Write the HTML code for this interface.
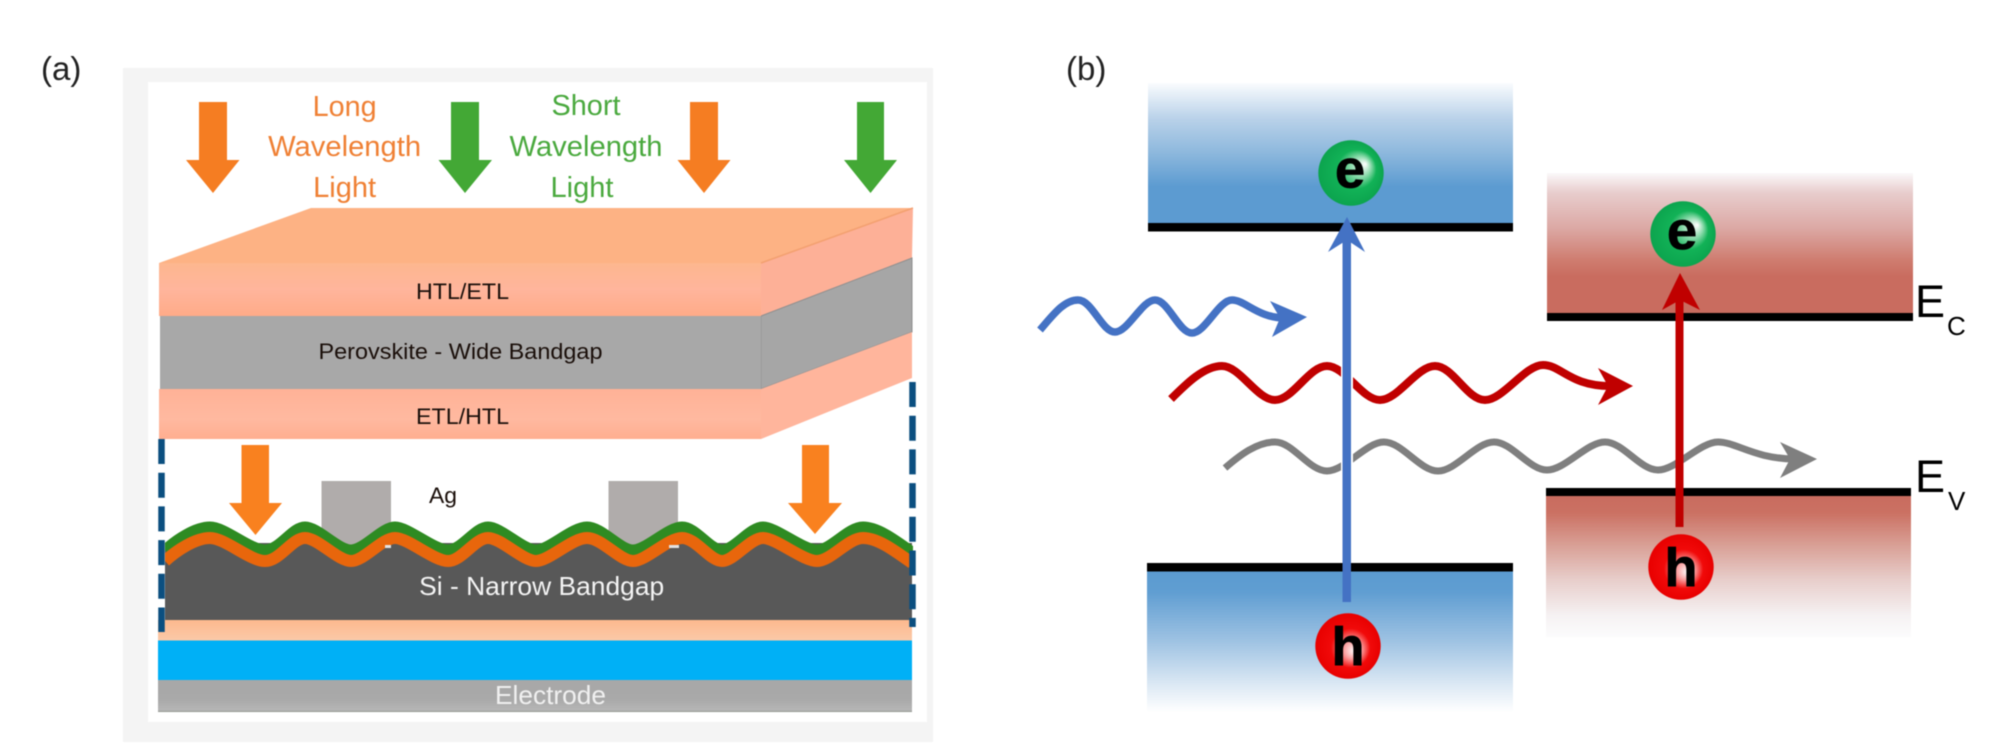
<!DOCTYPE html>
<html><head><meta charset="utf-8"><style>
html,body{margin:0;padding:0;background:#fff}
svg{display:block;filter:blur(.5px)}
text{font-family:"Liberation Sans",Arial,sans-serif}
</style></head><body>
<svg width="2000" height="752" viewBox="0 0 2000 752" xmlns="http://www.w3.org/2000/svg">
<defs>
<linearGradient id="bt" x1="0" y1="0" x2="0" y2="1"><stop offset="0" stop-color="#fafcfe"/><stop offset=".26" stop-color="#b8d1e9"/><stop offset=".5" stop-color="#8db8dd"/><stop offset=".74" stop-color="#5c9bd1"/><stop offset="1" stop-color="#5c9bd1"/></linearGradient>
<linearGradient id="bb" x1="0" y1="0" x2="0" y2="1"><stop offset="0" stop-color="#5b9bd0"/><stop offset=".15" stop-color="#609ed2"/><stop offset=".5" stop-color="#9fc3e3"/><stop offset=".8" stop-color="#dbe8f4"/><stop offset="1" stop-color="#fff"/></linearGradient>
<linearGradient id="rt" x1="0" y1="0" x2="0" y2="1"><stop offset="0" stop-color="#fbf9fa"/><stop offset=".14" stop-color="#e8cdcd"/><stop offset=".39" stop-color="#dca9a5"/><stop offset=".62" stop-color="#cf7d70"/><stop offset=".74" stop-color="#c96c5f"/><stop offset="1" stop-color="#c96c5f"/></linearGradient>
<linearGradient id="rb" x1="0" y1="0" x2="0" y2="1"><stop offset="0" stop-color="#c96c5f"/><stop offset=".12" stop-color="#cb7163"/><stop offset=".35" stop-color="#d9a096"/><stop offset=".6" stop-color="#e8cfcc"/><stop offset=".85" stop-color="#f6f2f3"/><stop offset="1" stop-color="#fcfcfd"/></linearGradient>
<linearGradient id="htl" x1="0" y1="0" x2="0" y2="1"><stop offset="0" stop-color="#fdb78f"/><stop offset=".5" stop-color="#ffb59c"/><stop offset="1" stop-color="#ffab88"/></linearGradient>
<linearGradient id="etl" x1="0" y1="0" x2="0" y2="1"><stop offset="0" stop-color="#ffb297"/><stop offset=".6" stop-color="#ffb9a0"/><stop offset="1" stop-color="#ffae90"/></linearGradient>
<linearGradient id="peach" x1="0" y1="0" x2="0" y2="1"><stop offset="0" stop-color="#fdb98e"/><stop offset="1" stop-color="#fbc9a8"/></linearGradient>
<linearGradient id="elec" x1="0" y1="0" x2="0" y2="1"><stop offset="0" stop-color="#a8a8a8"/><stop offset=".6" stop-color="#a9a9a9"/><stop offset=".95" stop-color="#b6b6b6"/><stop offset="1" stop-color="#8a9088"/></linearGradient>
<radialGradient id="ge" cx=".5" cy=".5" r=".5" fx=".72" fy=".36"><stop offset="0" stop-color="#fff"/><stop offset=".3" stop-color="#8fdcae"/><stop offset=".6" stop-color="#12b257"/><stop offset="1" stop-color="#0ca44e"/></radialGradient>
<radialGradient id="rh" cx=".5" cy=".5" r=".5" fx=".6" fy=".58"><stop offset="0" stop-color="#fff"/><stop offset=".28" stop-color="#fb9c9c"/><stop offset=".6" stop-color="#f10a0a"/><stop offset="1" stop-color="#e80000"/></radialGradient>
<clipPath id="siclip"><rect x="165" y="480" width="748" height="145"/></clipPath>
</defs>

<!-- panel a -->
<rect x="123" y="68" width="810" height="674" fill="#f4f4f4"/>
<rect x="148" y="82" width="779" height="640" fill="#fff"/>

<text x="41" y="80" font-size="33" fill="#222">(a)</text>
<text x="1066" y="80" font-size="33" fill="#222">(b)</text>

<!-- top arrows -->
<polygon points="199,102 227,102 227,160 239.5,160 213,193 186,160 199,160" fill="#f57d22"/>
<polygon points="451,102 479,102 479,160 492,160 465,193 438.5,160 451,160" fill="#43a835"/>
<polygon points="690,102 718,102 718,160 730.5,160 704,193 677.5,160 690,160" fill="#f57d22"/>
<polygon points="857,102 884,102 884,160 897,160 870.5,193 844,160 857,160" fill="#43a835"/>

<g font-size="29" fill="#ef8034" text-anchor="middle">
<text x="344.6" y="116" textLength="64" lengthAdjust="spacingAndGlyphs">Long</text>
<text x="344.6" y="156" textLength="153" lengthAdjust="spacingAndGlyphs">Wavelength</text>
<text x="344.6" y="197" textLength="63" lengthAdjust="spacingAndGlyphs">Light</text>
</g>
<g font-size="29" fill="#4aa93e" text-anchor="middle">
<text x="586" y="115" textLength="69" lengthAdjust="spacingAndGlyphs">Short</text>
<text x="586" y="156" textLength="153" lengthAdjust="spacingAndGlyphs">Wavelength</text>
<text x="582" y="197" textLength="63" lengthAdjust="spacingAndGlyphs">Light</text>
</g>

<!-- stack upper -->
<polygon points="159,263 311,208 913,208 761,263" fill="#fdb284"/>
<polygon points="761,263 913,208 912,258 761,316" fill="#fdb097"/>
<line x1="761" y1="263" x2="913" y2="208" stroke="#f3a070" stroke-width="1.500"/>
<polygon points="761,316 912,258 912,332 761,389" fill="#a6a6a6" stroke="#8f8f8f" stroke-width="1"/>
<polygon points="761,389 912,332 912,378 761,439" fill="#ffb59c"/>
<rect x="159" y="263" width="602" height="53" fill="url(#htl)"/>
<rect x="160" y="316" width="601" height="73" fill="#a8a8a8"/>
<rect x="159" y="389" width="602" height="50" fill="url(#etl)"/>

<g fill="#1a0f0a" font-size="22.5" text-anchor="middle">
<text x="462.5" y="299" textLength="93" lengthAdjust="spacingAndGlyphs">HTL/ETL</text>
<text x="460.5" y="359" textLength="284" lengthAdjust="spacingAndGlyphs">Perovskite - Wide Bandgap</text>
<text x="462.5" y="424" textLength="93" lengthAdjust="spacingAndGlyphs">ETL/HTL</text>
<text x="443" y="503" textLength="28" lengthAdjust="spacingAndGlyphs">Ag</text>
</g>

<!-- lower cell -->
<rect x="165" y="543" width="747" height="77" fill="#585858"/>
<rect x="321.500" y="481" width="69.500" height="65" fill="#b0acab"/>
<rect x="608.500" y="481" width="69.500" height="65" fill="#b0acab"/>
<g clip-path="url(#siclip)" fill="none">
<path d="M165 550C176 540 195 527 210 527S250 550 265 550S292 527 305 527S338 550 351 550S382 527 395 527S434 550 448 550S475 527 488 527S523 550 536 550S572 527 587 527S620 550 633 550S668 527 682 527S710 550 722 550S750 527 763 527S803 550 817 550S848 527 863 527S895 540 912 552" stroke="#2e8b22" stroke-width="11"/>
<path d="M165 561C176 551 195 538 210 538S250 561 265 561S292 538 305 538S338 561 351 561S382 538 395 538S434 561 448 561S475 538 488 538S523 561 536 561S572 538 587 538S620 561 633 561S668 538 682 538S710 561 722 561S750 538 763 538S803 561 817 561S848 538 863 538S895 551 912 563" stroke="#e8660c" stroke-width="12"/>
</g>
<rect x="385" y="545" width="6" height="3" fill="#e4e2e2"/>
<rect x="669" y="545" width="10" height="3" fill="#e4e2e2"/>
<polygon points="241.500,445 269,445 269,503 282,503 255.500,535 229,503 241.500,503" fill="#f9811f"/>
<polygon points="802,445 829,445 829,503 842,503 815,534 788,503 802,503" fill="#f9811f"/>

<text x="541.7" y="595" font-size="26" fill="#f4f4f4" text-anchor="middle" textLength="245" lengthAdjust="spacingAndGlyphs">Si - Narrow Bandgap</text>

<rect x="158" y="620" width="754" height="20.500" fill="url(#peach)"/>
<rect x="158" y="640.500" width="754" height="39.500" fill="#00b0f6"/>
<rect x="158" y="680" width="754" height="32" fill="url(#elec)"/>
<text x="550.500" y="704" font-size="26" fill="#f0f0f0" text-anchor="middle" textLength="111" lengthAdjust="spacingAndGlyphs">Electrode</text>

<line x1="161.500" y1="439" x2="161.500" y2="632" stroke="#0b4f80" stroke-width="6.500" stroke-dasharray="25 8.700"/>
<line x1="912.500" y1="382" x2="912.500" y2="627" stroke="#0b4f80" stroke-width="6.500" stroke-dasharray="25 8.700"/>

<!-- panel b bands -->
<rect x="1148" y="83" width="365" height="140" fill="url(#bt)"/>
<rect x="1148" y="223" width="365" height="8.500" fill="#000"/>
<rect x="1147" y="571" width="366" height="141" fill="url(#bb)"/>
<rect x="1147" y="563" width="366" height="8.500" fill="#000"/>
<rect x="1547" y="173" width="366" height="140" fill="url(#rt)"/>
<rect x="1547" y="313" width="366" height="8" fill="#000"/>
<rect x="1546" y="496" width="365" height="141" fill="url(#rb)"/>
<rect x="1546" y="488" width="365" height="8" fill="#000"/>

<!-- waves -->
<g fill="none" stroke-linecap="butt">
<path d="M1040 330C1053 315 1064 300 1078 300S1102 332 1115 332S1142 300 1155 300S1179 333 1192 333S1219 300 1232 300S1258 318 1285 318" stroke="#4472c4" stroke-width="7.500"/>
<path d="M1225 468C1240 455 1257 442 1275 442S1309 471 1327 471S1366 442 1384 442S1420 471 1438 471S1476 442 1494 442S1529 470 1547 470S1587 442 1605 442S1640 470 1658 470S1700 442 1718 442S1755 459 1795 459" stroke="#7f7f7f" stroke-width="7"/>
<path d="M1171 399C1186 384 1204 366 1222 366S1257 400 1275 400S1309 366 1327 366S1362 400 1380 400S1417 366 1435 366S1467 400 1485 400S1525 365 1543 365S1570 386 1610 386" stroke="#c00000" stroke-width="8"/>
</g>
<polygon points="1307,317 1270,301 1280,318 1272,337" fill="#4472c4"/>
<polygon points="1633,386 1598,368 1608,386 1598,405" fill="#c00000"/>
<polygon points="1817,459 1780,442 1790,459 1780,478" fill="#7f7f7f"/>

<!-- vertical arrows -->
<rect x="1341" y="360" width="12" height="40" fill="#fff"/>
<rect x="1341" y="430" width="12" height="45" fill="#fff"/>
<rect x="1342.500" y="240" width="8.500" height="362" fill="#4472c4"/>
<polygon points="1347,217 1365,252 1347,240 1328,252" fill="#4472c4"/>
<rect x="1675.500" y="300" width="8" height="227" fill="#c00000"/>
<polygon points="1680,273 1700,310 1680,300 1662,310" fill="#c00000"/>

<!-- balls -->
<circle cx="1351" cy="173" r="32.700" fill="url(#ge)"/>
<text x="1350" y="187.500" font-size="54" font-weight="bold" text-anchor="middle" fill="#000" stroke="#000" stroke-width=".8">e</text>
<circle cx="1683" cy="234" r="32.700" fill="url(#ge)"/>
<text x="1682" y="249" font-size="54" font-weight="bold" text-anchor="middle" fill="#000" stroke="#000" stroke-width=".8">e</text>
<circle cx="1348" cy="646" r="32.700" fill="url(#rh)"/>
<text x="1348" y="665" font-size="54" font-weight="bold" text-anchor="middle" fill="#000" stroke="#000" stroke-width=".8">h</text>
<circle cx="1681" cy="567" r="32.700" fill="url(#rh)"/>
<text x="1681" y="586" font-size="54" font-weight="bold" text-anchor="middle" fill="#000" stroke="#000" stroke-width=".8">h</text>

<!-- labels -->
<g fill="#000">
<text x="1915" y="317" font-size="45">E</text>
<text x="1947" y="335" font-size="26">C</text>
<text x="1915" y="492" font-size="45">E</text>
<text x="1948" y="510" font-size="26">V</text>
</g>
</svg>
</body></html>
